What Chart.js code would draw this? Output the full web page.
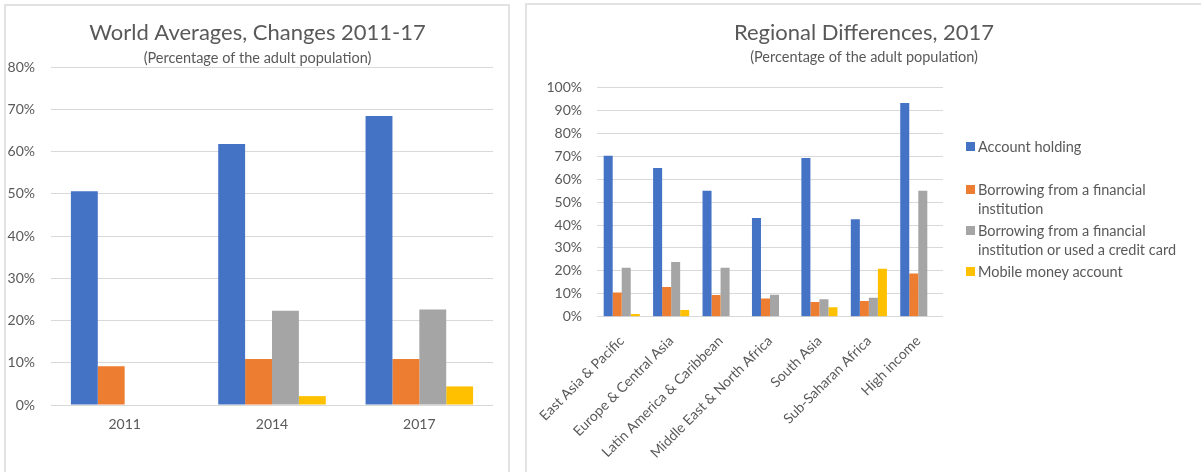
<!DOCTYPE html>
<html>
<head>
<meta charset="utf-8">
<script src="https://cdn.jsdelivr.net/npm/chart.js@4/dist/chart.umd.min.js"></script>
<style>
  html, body { margin: 0; padding: 0; background: #ffffff; width: 1201px; height: 472px; overflow: hidden; font-family: Lato, sans-serif; }
  .panel { position: absolute; box-sizing: border-box; border: 2px solid #e2e2e2; border-bottom: none; background: #fff; }
  .box { position: absolute; }
  #legend { position: absolute; left: 966px; top: 0; font-family: Lato, sans-serif; font-size: 14.5px; color: #595959; }
  .li { position: absolute; left: 0; white-space: nowrap; line-height: 19px; }
  .sw { position: absolute; left: 0; top: 5px; width: 9px; height: 9px; }
  .tx { position: absolute; left: 12px; top: 0; }
</style>
</head>
<body>
<div class="panel" style="left:4px; top:4px; width:506px; height:480px;"></div>
<div class="panel" style="left:525px; top:3px; width:700px; height:480px; border-right:none;"></div>
<div class="box" style="left:6px; top:6px; width:503px; height:466px;"><canvas id="c1"></canvas></div>
<div class="box" style="left:528px; top:6px; width:672px; height:466px;"><canvas id="c2"></canvas></div>
<div id="legend"></div>
<script>
// ---- Data: World averages ----
const years = ['2011', '2014', '2017'];
const worldAccount = [50.6, 61.8, 68.4];
const worldBorrow = [9.2, 10.9, 10.9];
const worldBorrowCard = [null, 22.3, 22.6];
const worldMobile = [null, 2.1, 4.4];

// ---- Data: Regional differences 2017 ----
const regions = ['East Asia & Pacific', 'Europe & Central Asia', 'Latin America & Caribbean', 'Middle East & North Africa', 'South Asia', 'Sub-Saharan Africa', 'High income'];
const regAccount = [70.2, 64.9, 55.0, 43.1, 69.2, 42.5, 93.2];
const regBorrow = [10.6, 13.0, 9.5, 7.9, 6.4, 6.8, 18.9];
const regBorrowCard = [21.4, 23.9, 21.4, 9.6, 7.6, 8.3, 55.0];
const regMobile = [1.2, 2.9, null, null, 4.1, 20.9, null];

const seriesNames = ['Account holding', 'Borrowing from a financial institution', 'Borrowing from a financial institution or used a credit card', 'Mobile money account'];
const legendLines = [['Account holding'], ['Borrowing from a financial', 'institution'], ['Borrowing from a financial', 'institution or used a credit card'], ['Mobile money account']];
const colors = ['#4472C4', '#ED7D31', '#A5A5A5', '#FFC000'];

const FONT = 'Lato, sans-serif';
const TXT = '#595959';
const GRID = '#d9d9d9';

function makeDatasets(arrs) {
  return arrs.map((d, i) => ({
    label: seriesNames[i],
    data: d,
    backgroundColor: colors[i],
    borderWidth: 0,
    barPercentage: 1.0,
    categoryPercentage: 0.73
  }));
}

function makeChart(id, labels, arrs, cfg) {
  return new Chart(document.getElementById(id), {
    type: 'bar',
    data: { labels: labels, datasets: makeDatasets(arrs) },
    options: {
      responsive: true,
      maintainAspectRatio: false,
      animation: false,
      events: [],
      layout: { padding: { top: 0, left: 0, right: 0, bottom: cfg.padBottom } },
      plugins: {
        legend: { display: false },
        tooltip: { enabled: false },
        title: {
          display: true, text: cfg.title, color: TXT,
          font: { family: FONT, size: 22, weight: 'normal', lineHeight: 1.2 },
          padding: { top: 13.8, bottom: 0 }
        },
        subtitle: {
          display: true, text: '(Percentage of the adult population)', color: TXT,
          font: { family: FONT, size: 14.5, weight: 'normal', lineHeight: 1.2 },
          padding: { top: cfg.subTop, bottom: cfg.subBottom }
        }
      },
      scales: {
        x: {
          grid: { display: false },
          border: { display: false },
          ticks: {
            color: TXT, font: { family: FONT, size: 14 }, padding: cfg.xPad,
            autoSkip: false, maxRotation: cfg.rot, minRotation: cfg.rot
          },
          afterFit: s => { s.height = cfg.xHeight; }
        },
        y: {
          min: 0, max: cfg.max,
          grid: { color: GRID, lineWidth: 1, drawTicks: false },
          border: { display: false },
          ticks: {
            stepSize: 10, color: TXT, font: { family: FONT, size: 14 }, padding: cfg.yPad,
            callback: v => v + '%'
          },
          afterFit: s => { s.width = cfg.yWidth; }
        },
        spacer: {
          type: 'linear', position: 'right', display: true,
          grid: { display: false }, border: { display: false },
          ticks: { display: false },
          afterFit: s => { s.width = cfg.rightSpace; }
        }
      }
    }
  });
}

makeChart('c1', years, [worldAccount, worldBorrow, worldBorrowCard, worldMobile], {
  title: 'World Averages, Changes 2011-17', max: 80,
  subTop: 3.1, subBottom: 0.3, padBottom: 27, xHeight: 40, xPad: 3.5, rot: 0,
  yWidth: 45, yPad: 16, rightSpace: 16
});

makeChart('c2', regions, [regAccount, regBorrow, regBorrowCard, regMobile], {
  title: 'Regional Differences, 2017', max: 100,
  subTop: 2.1, subBottom: 21.8, padBottom: 0, xHeight: 155.3, xPad: 8, rot: 45,
  yWidth: 69, yPad: 15, rightSpace: 257
});

// HTML legend for the right chart
const lg = document.getElementById('legend');
const itemTops = [137, 179.5, 221, 262];
legendLines.forEach((lines, i) => {
  const d = document.createElement('div');
  d.className = 'li';
  d.style.top = itemTops[i] + 'px';
  const sw = document.createElement('div');
  sw.className = 'sw';
  sw.style.background = colors[i];
  const tx = document.createElement('div');
  tx.className = 'tx';
  tx.innerHTML = lines.join('<br>');
  d.appendChild(sw); d.appendChild(tx);
  lg.appendChild(d);
});
</script>
</body>
</html>
